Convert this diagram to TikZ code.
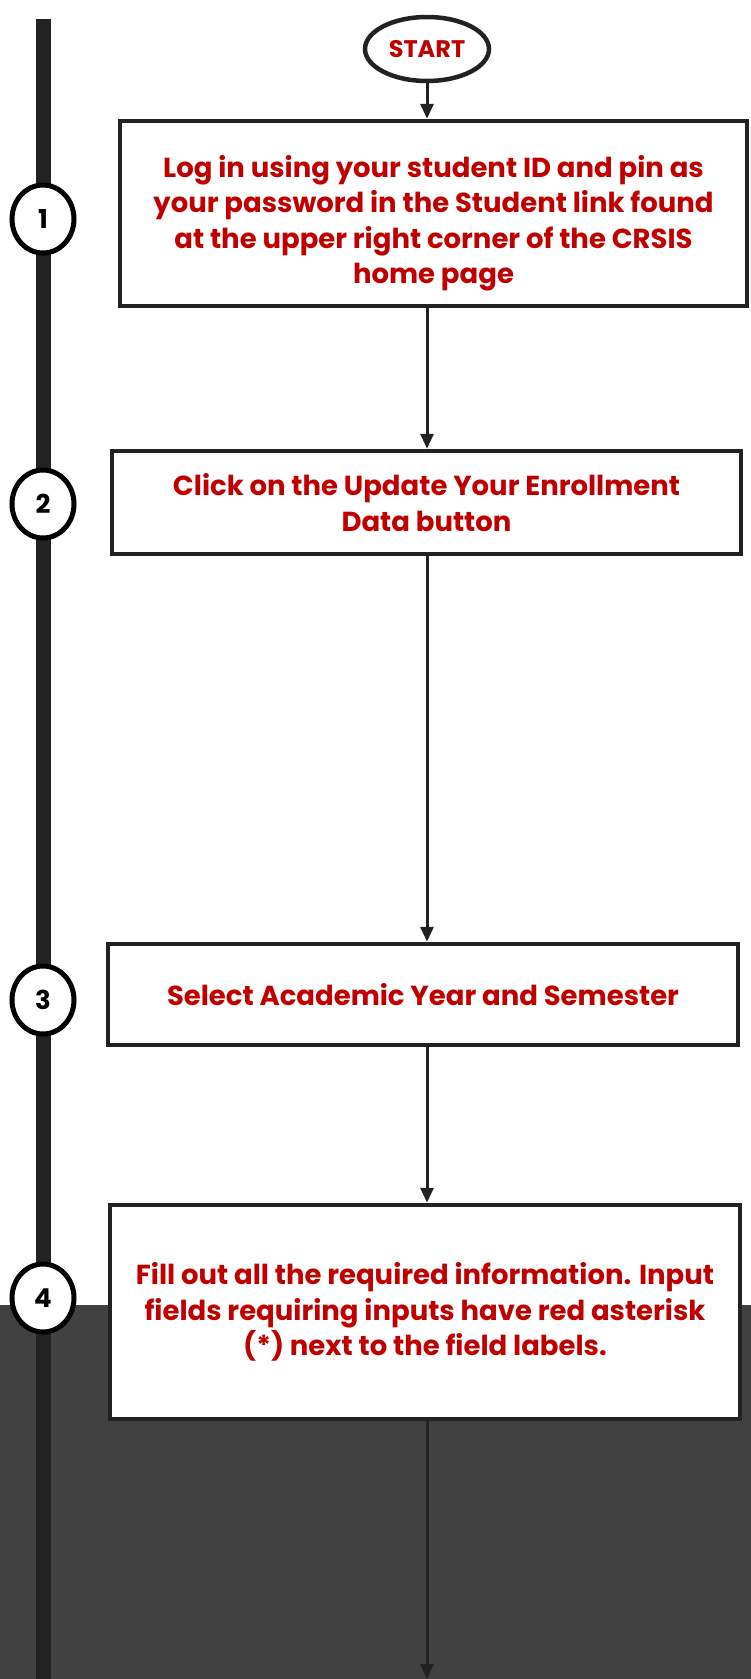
\documentclass[tikz,border=0pt]{standalone}
\usepackage{fontspec}
\setmainfont{Poppins}
\usepackage{tikz}
\usetikzlibrary{positioning}
\usetikzlibrary{arrows.meta,shapes.geometric}
\definecolor{steptext}{HTML}{C00000}
\definecolor{linegray}{HTML}{222222}
\definecolor{bgdark}{HTML}{414141}
\tikzset{stepbox/.style={draw=linegray, line width=4.5pt, fill=white, align=center,
    text=steptext, font=\fontsize{27.5}{35.5}\selectfont\bfseries, inner sep=0pt}}
\tikzset{numcirc/.style={ellipse, draw=black, line width=5pt, fill=white,
    minimum width=62pt, minimum height=68pt, inner sep=0pt, font=\fontsize{26}{26}\selectfont\bfseries}}
\tikzset{flow/.style={draw=linegray, line width=3pt, -{Triangle[length=15pt,width=13pt]}}}

\begin{document}
\begin{tikzpicture}[x=1pt,y=-1pt]
\useasboundingbox (0,0) rectangle (751,1679);
% background
\fill[bgdark] (0,1305) rectangle (751,1679);
\fill[linegray] (36,19) rectangle (51,1679);
% start
\node[ellipse, draw=linegray, line width=4.5pt, fill=white, minimum width=124pt, minimum height=64pt,
  text=steptext, font=\fontsize{24}{24}\selectfont\bfseries, inner sep=0pt] (start) at (427,49) {START};
% steps
\node[stepbox, minimum width=627pt, minimum height=185pt] (b1) at (433.5,213.5)
  {\rule{0pt}{42pt}Log in using your student ID and pin as\\your password in the Student link found\\at the upper right corner of the CRSIS\\home page};
\node[stepbox, minimum width=629pt, minimum height=103pt] (b2) at (426.5,502.5)
  {Click on the Update Your Enrollment\\Data button};
\node[stepbox, minimum width=630pt, minimum height=101pt] (b3) at (423,994.5)
  {Select Academic Year and Semester};
\node[stepbox, minimum width=630pt, minimum height=214pt] (b4) at (425,1312)
  {Fill out all the required information. Input\\fields requiring inputs have red asterisk\\(*) next to the field labels.};
\coordinate (end) at (427,1679);
% numbers
\foreach \n/\y in {1/219,2/504,3/1000,4/1298} {
\node[numcirc] (n\n) at (43,\y) {\n};
}
% arrows
\draw[flow] (start.south) -- (start.south |- b1.north);
\draw[flow] (b1.south -| start.south) -- (b2.north -| start.south);
\draw[flow] (b2.south -| start.south) -- (b3.north -| start.south);
\draw[flow] (b3.south -| start.south) -- (b4.north -| start.south);
\draw[flow] (b4.south -| start.south) -- (end);
\end{tikzpicture}
\end{document}
